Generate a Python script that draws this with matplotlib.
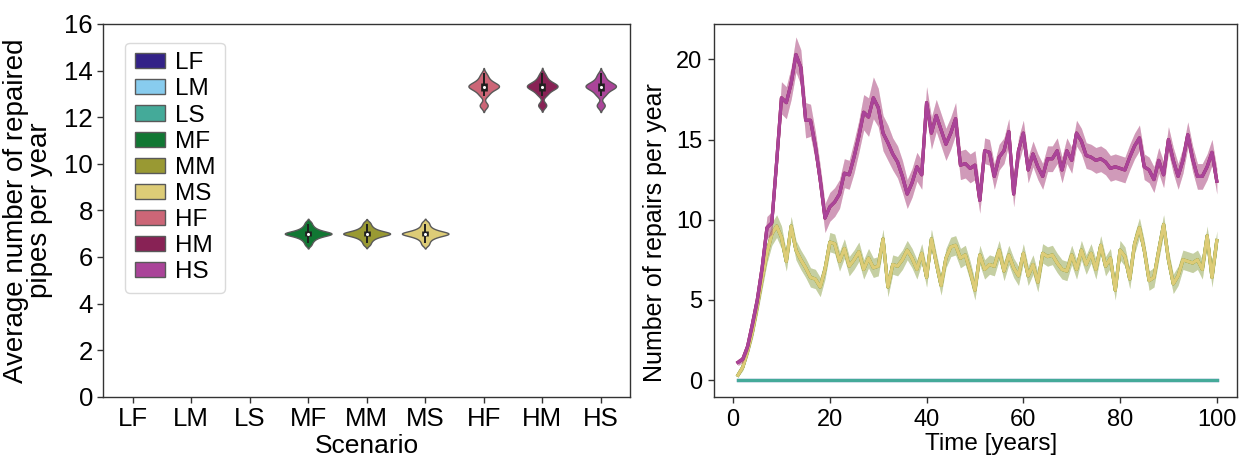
import matplotlib
matplotlib.use('Agg')
import matplotlib.pyplot as plt
from matplotlib.patches import Patch
from matplotlib import cbook
import numpy as np
import pandas as pd
import seaborn as sns

plt.rcParams['font.family'] = ['Liberation Sans', 'DejaVu Sans']

# ---------------- data ----------------
scenarios = ['LF', 'LM', 'LS', 'MF', 'MM', 'MS', 'HF', 'HM', 'HS']
colors = ['#332288', '#88CCEE', '#44AA99', '#117733', '#999933',
          '#DDCC77', '#CC6677', '#882255', '#AA4499']

# average number of repaired pipes per year (one value per simulation run)
mf_avg = [6.50, 6.60, 6.68, 6.74, 6.79, 6.83, 6.86, 6.89, 6.91, 6.93, 6.95, 6.965, 6.98, 6.99,
          7.00, 7.01, 7.02, 7.035, 7.05, 7.07, 7.09, 7.11, 7.14, 7.17, 7.21, 7.26, 7.32, 7.40, 7.50]
mm_avg = [6.51, 6.60, 6.68, 6.74, 6.79, 6.83, 6.86, 6.89, 6.91, 6.93, 6.95, 6.965, 6.98, 6.99,
          7.00, 7.01, 7.02, 7.035, 7.05, 7.07, 7.09, 7.11, 7.14, 7.17, 7.21, 7.26, 7.32, 7.40, 7.49]
ms_avg = [6.50, 6.59, 6.67, 6.74, 6.79, 6.83, 6.86, 6.89, 6.91, 6.93, 6.95, 6.965, 6.98, 6.99,
          7.00, 7.01, 7.02, 7.035, 7.05, 7.07, 7.09, 7.11, 7.14, 7.17, 7.21, 7.26, 7.33, 7.41, 7.50]
hf_avg = [12.45, 12.50, 12.57, 12.91, 12.97, 13.05, 13.12, 13.17, 13.21, 13.24, 13.27, 13.29,
          13.31, 13.33, 13.35, 13.37, 13.39, 13.42, 13.45, 13.49, 13.54, 13.60, 13.68, 13.77, 13.88]
hm_avg = [12.46, 12.51, 12.58, 12.92, 12.98, 13.05, 13.12, 13.17, 13.21, 13.24, 13.27, 13.29,
          13.31, 13.33, 13.35, 13.37, 13.39, 13.42, 13.45, 13.49, 13.54, 13.60, 13.68, 13.77, 13.89]
hs_avg = [12.45, 12.50, 12.57, 12.91, 12.97, 13.04, 13.11, 13.17, 13.21, 13.24, 13.27, 13.29,
          13.31, 13.33, 13.35, 13.37, 13.39, 13.42, 13.45, 13.49, 13.54, 13.60, 13.69, 13.78, 13.88]

# number of repairs per year, mean and confidence half-width per year (1..100)
years = list(range(1, 101))
l_mean = [0.0] * 100
m_mean = [0.3, 0.8, 1.8, 3.0, 4.6, 6.3, 7.9, 9.1, 9.6, 8.9,
          7.4, 9.6, 8.1, 7.5, 7.0, 6.4, 6.3, 5.8, 6.9, 8.6,
          8.5, 7.4, 8.2, 7.1, 7.5, 8.0, 6.9, 7.6, 7.0, 7.1,
          8.8, 5.8, 7.2, 7.1, 7.5, 8.1, 7.6, 6.9, 7.9, 6.4,
          8.8, 7.3, 5.9, 7.6, 8.3, 8.4, 7.6, 7.8, 6.8, 5.6,
          7.8, 6.9, 7.2, 7.1, 8.1, 6.8, 7.8, 7.0, 6.5, 7.9,
          6.5, 7.2, 6.1, 7.9, 7.7, 7.8, 7.3, 6.9, 6.8, 7.8,
          6.9, 8.1, 7.2, 7.9, 6.9, 8.4, 7.1, 7.6, 5.6, 8.1,
          7.7, 6.3, 8.5, 9.5, 8.1, 6.2, 6.4, 8.1, 9.7, 7.5,
          6.0, 6.5, 7.5, 7.4, 7.3, 7.5, 6.9, 9.0, 6.4, 8.7]
m_err = [0.1, 0.2, 0.3, 0.4, 0.5, 0.6, 0.6, 0.7, 0.7, 0.7,
         0.6, 0.6, 0.6, 0.6, 0.6, 0.6, 0.6, 0.6, 0.6, 0.6,
         0.6, 0.6, 0.6, 0.6, 0.6, 0.6, 0.6, 0.6, 0.6, 0.6,
         0.6, 0.6, 0.6, 0.6, 0.6, 0.6, 0.6, 0.6, 0.6, 0.6,
         0.6, 0.6, 0.6, 0.6, 0.6, 0.6, 0.6, 0.6, 0.6, 0.6,
         0.6, 0.6, 0.6, 0.6, 0.6, 0.6, 0.6, 0.6, 0.6, 0.6,
         0.6, 0.6, 0.6, 0.6, 0.6, 0.6, 0.6, 0.6, 0.6, 0.6,
         0.6, 0.6, 0.6, 0.6, 0.6, 0.6, 0.6, 0.6, 0.6, 0.6,
         0.6, 0.6, 0.6, 0.6, 0.6, 0.6, 0.6, 0.6, 0.6, 0.6,
         0.6, 0.6, 0.6, 0.6, 0.6, 0.6, 0.6, 0.6, 0.6, 0.6]
h_mean = [1.1, 1.3, 2.1, 3.5, 5.0, 7.0, 9.5, 9.8, 13.6, 17.6,
          17.3, 18.5, 20.3, 19.5, 16.2, 16.2, 14.6, 12.5, 10.1, 10.8,
          11.1, 11.6, 12.9, 12.8, 13.9, 15.2, 16.7, 16.4, 17.6, 17.0,
          15.4, 14.8, 14.1, 13.6, 12.7, 11.6, 12.3, 13.3, 12.8, 17.3,
          15.4, 16.5, 15.6, 14.7, 15.4, 16.3, 13.4, 13.5, 13.2, 13.4,
          11.2, 14.3, 14.2, 12.7, 13.9, 14.3, 15.5, 11.6, 14.3, 15.4,
          13.1, 14.1, 13.3, 12.7, 13.8, 13.8, 14.3, 13.1, 14.3, 13.7,
          15.4, 14.9, 14.0, 13.9, 13.7, 13.8, 13.6, 13.2, 13.3, 13.2,
          13.1, 13.9, 14.6, 15.1, 13.3, 13.1, 12.5, 13.7, 12.8, 15.0,
          13.7, 12.7, 13.7, 15.3, 13.8, 12.7, 12.7, 13.3, 14.2, 12.4]
h_err = [0.2, 0.2, 0.3, 0.4, 0.5, 0.6, 0.7, 0.7, 0.9, 1.0,
         1.0, 1.0, 1.1, 1.1, 1.1, 1.0, 0.9, 0.9, 0.9, 0.9,
         0.9, 0.9, 0.9, 0.9, 1.0, 1.0, 1.1, 1.2, 1.3, 1.2,
         1.1, 1.1, 1.0, 1.0, 1.0, 0.9, 0.9, 0.9, 0.9, 1.0,
         1.0, 1.0, 1.0, 1.0, 1.0, 1.0, 0.9, 0.9, 0.9, 0.9,
         0.8, 0.8, 0.8, 0.8, 0.8, 0.8, 0.8, 0.8, 0.8, 0.8,
         0.8, 0.8, 0.8, 0.8, 0.8, 0.8, 0.8, 0.8, 0.8, 0.8,
         0.8, 0.8, 0.8, 0.8, 0.8, 0.8, 0.8, 0.8, 0.8, 0.8,
         0.8, 0.8, 0.8, 0.8, 0.8, 0.8, 0.8, 0.8, 0.8, 0.8,
         0.8, 0.8, 0.8, 0.8, 0.8, 0.8, 0.8, 0.8, 0.8, 0.8]

# ---------------- figure ----------------
fig = plt.figure(figsize=(12.48, 4.57), dpi=100)
ax1 = fig.add_axes([0.0828, 0.132, 0.422, 0.8155])
ax2 = fig.add_axes([0.5723, 0.1313, 0.4186, 0.816])

violin_data = {'MF': mf_avg, 'MM': mm_avg, 'MS': ms_avg,
               'HF': hf_avg, 'HM': hm_avg, 'HS': hs_avg}
rows = [(s, v) for s in scenarios for v in violin_data.get(s, [])]
df = pd.DataFrame(rows, columns=['Scenario', 'value'])
pal = dict(zip(scenarios, colors))

sns.violinplot(data=df, x='Scenario', y='value', hue='Scenario', order=scenarios,
               hue_order=scenarios, palette=pal, inner=None, linecolor='0.35',
               linewidth=1.0, bw_adjust=0.6, density_norm='area', common_norm=True,
               width=0.8, legend=False, ax=ax1, saturation=1)

for i, s in enumerate(scenarios):
    vals = violin_data.get(s)
    if not vals:
        continue
    st = cbook.boxplot_stats(np.asarray(vals))[0]
    ax1.plot([i, i], [st['whislo'], st['whishi']], color='0.12', lw=1.4,
             solid_capstyle='butt', zorder=3)
    ax1.plot([i, i], [st['q1'], st['q3']], color='0.12', lw=4.8,
             solid_capstyle='butt', zorder=3)
    ax1.scatter([i], [st['med']], s=5, color='white', zorder=4, linewidths=0)

ax1.set_xlim(-0.5, 8.5)
ax1.set_ylim(0, 16)
ax1.set_yticks(range(0, 17, 2))
ax1.set_xticks(range(len(scenarios)))
ax1.set_xticklabels(scenarios)
ax1.tick_params(labelsize=18.5, length=4.5, width=1, color='0.2', pad=3)
ax1.set_ylabel('Average number of repaired\npipes per year', fontsize=20, linespacing=0.92)
ax1.yaxis.set_label_coords(-0.0947, 0.5)
ax1.set_xlabel('Scenario', fontsize=19)
ax1.xaxis.set_label_coords(0.5, -0.100)

handles = [Patch(facecolor=c, edgecolor='0.35', linewidth=1, label=s)
           for s, c in zip(scenarios, colors)]
ax1.legend(handles=handles, loc='upper left', bbox_to_anchor=(0.041, 0.95),
           borderaxespad=0, fontsize=17.5, handlelength=1.25, handleheight=0.58,
           labelspacing=0.17, handletextpad=0.4, borderpad=0.4, frameon=True,
           edgecolor='0.82', fancybox=True)

groups = {'L': (l_mean, None), 'M': (m_mean, m_err), 'H': (h_mean, h_err)}
x = np.asarray(years)
for s, c in zip(scenarios, colors):
    mean, err = groups[s[0]]
    mean = np.asarray(mean)
    ax2.plot(x, mean, color=c, lw=2.3, zorder=2)
    if err is not None:
        err = np.asarray(err)
        ax2.fill_between(x, mean - err, mean + err, color=c, alpha=0.22, lw=0, zorder=2)

ax2.set_xlim(-3.9, 104.1)
ax2.set_ylim(-1.06, 22.2)
ax2.set_xticks([0, 20, 40, 60, 80, 100])
ax2.set_yticks([0, 5, 10, 15, 20])
ax2.tick_params(labelsize=17, length=4.5, width=1, color='0.2', pad=4)
ax2.set_ylabel('Number of repairs per year', fontsize=18)
ax2.yaxis.set_label_coords(-0.0898, 0.44)
ax2.set_xlabel('Time [years]', fontsize=17.5)
ax2.xaxis.set_label_coords(0.53, -0.097)

for ax in (ax1, ax2):
    for sp in ax.spines.values():
        sp.set_color('0.2')
        sp.set_linewidth(1.0)

fig.savefig('out.png', dpi=100)
